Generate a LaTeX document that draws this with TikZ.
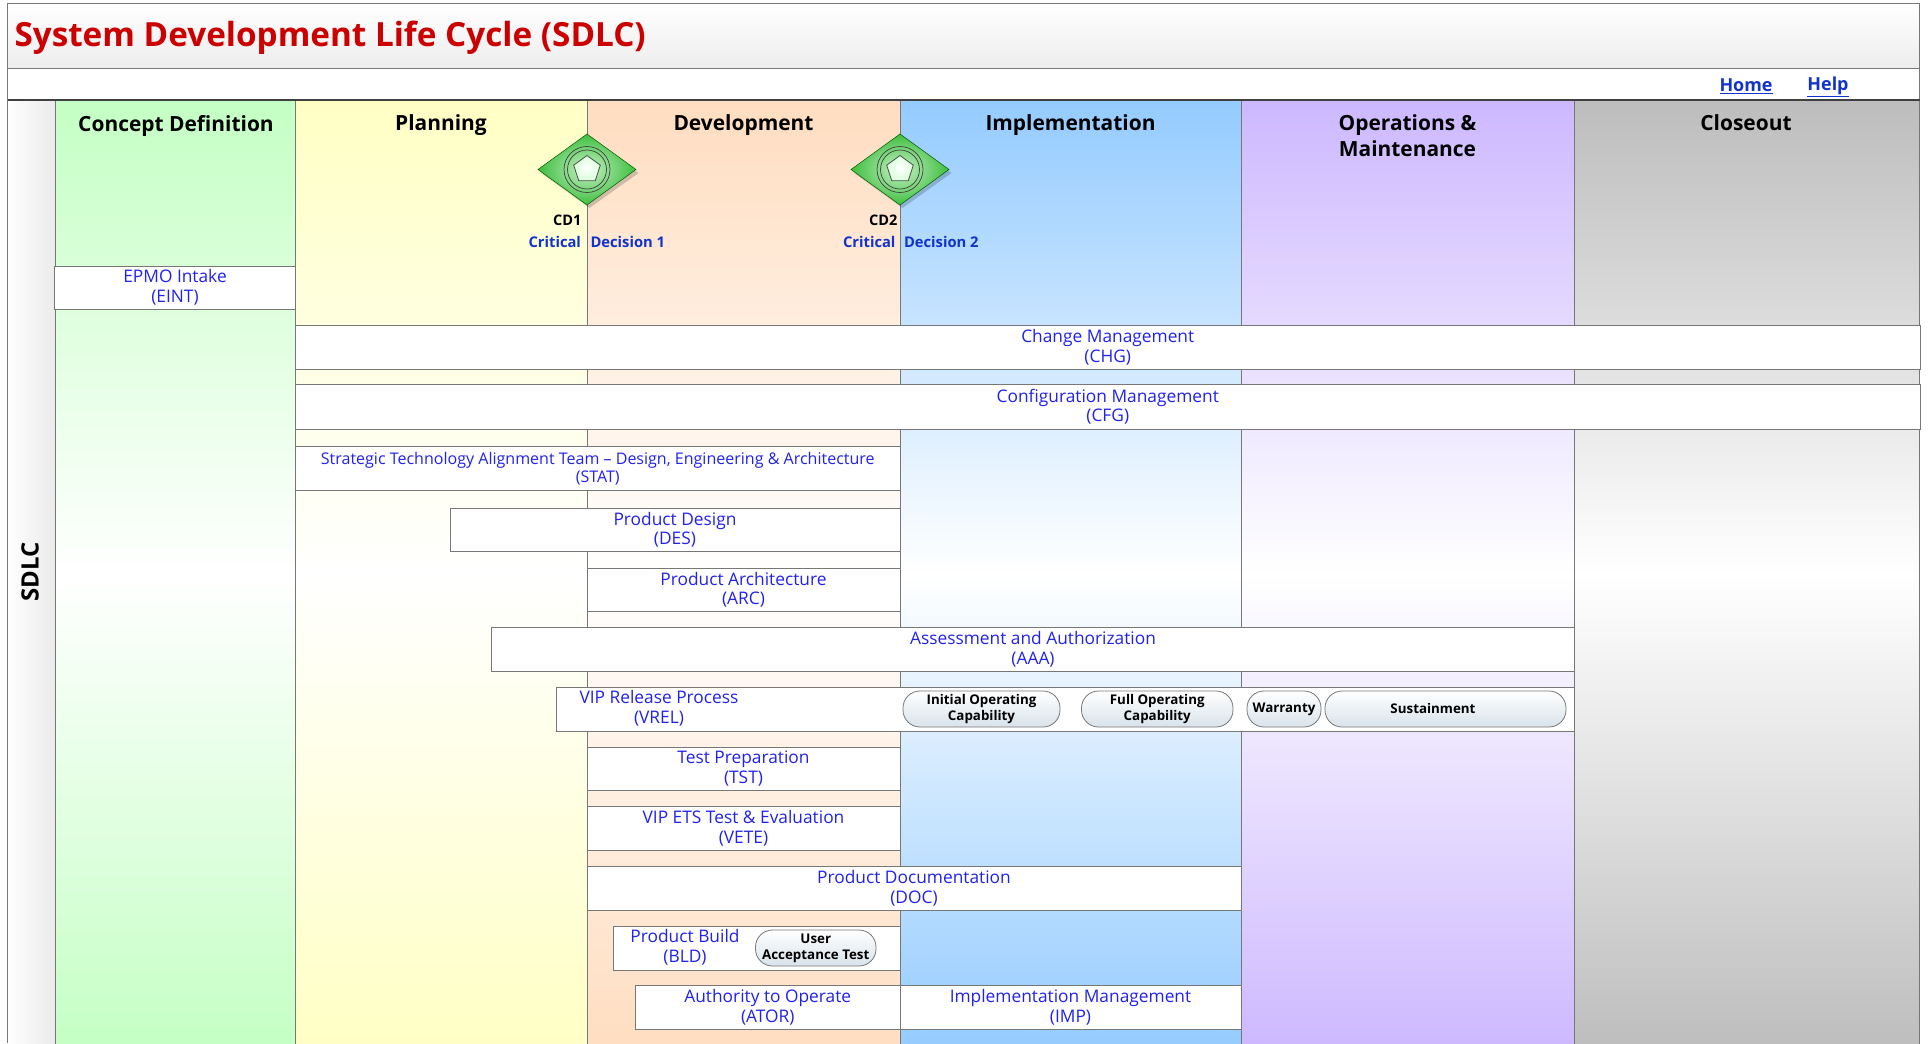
\documentclass[tikz,border=0pt]{standalone}
\usepackage{fontspec}
\setmainfont{Open Sans}
\usetikzlibrary{shapes.geometric,shadows}
\definecolor{linkblue}{HTML}{2222EE}
\definecolor{cdblue}{HTML}{1133CC}
\definecolor{edge}{HTML}{777777}
\definecolor{cgreen}{HTML}{C4FFC4}
\definecolor{cyellow}{HTML}{FFFFC4}
\definecolor{corange}{HTML}{FFDDC0}
\definecolor{cblue}{HTML}{94CBFF}
\definecolor{cpurple}{HTML}{CDB8FF}
\definecolor{cgray}{HTML}{BDBDBD}
\definecolor{pillend}{HTML}{D9E3EA}
\definecolor{gateout}{HTML}{3DBE3D}
\definecolor{gatein}{HTML}{C8F2C8}
\newcommand{\fs}[1]{\fontsize{#1}{#1}\selectfont}
\tikzset{
  x=1bp,y=-1bp,
  every node/.style={inner sep=0pt,outer sep=0pt},
  col/.style={draw=edge,line width=0.8bp,rectangle,anchor=north west,top color=#1,bottom color=#1,middle color=white},
  coltitle/.style={font=\fs{21}\bfseries,align=center,text=black,anchor=north},
  bar/.style={draw=edge,line width=1bp,fill=white,rectangle,align=center,text=linkblue,font=\fs{17.4},execute at begin node=\setlength{\baselineskip}{19.8bp}},
  lbl/.style={align=center,text=linkblue,font=\fs{17.4},execute at begin node=\setlength{\baselineskip}{19.8bp}},
  pill/.style={draw=edge,line width=0.8bp,rounded corners=17bp,top color=white,bottom color=pillend,align=center,text=black,font=\fs{13.4}\bfseries,execute at begin node=\setlength{\baselineskip}{16bp}},
  gate/.style={diamond,aspect=1.38,minimum width=98bp,minimum height=71bp,draw=green!35!black,line width=0.5bp,inner color=gatein,outer color=gateout},
  ring/.style={circle,draw=black!75,line width=0.7bp,minimum size=#1},
  penta/.style={regular polygon,regular polygon sides=5,draw=black!70,line width=0.8bp,inner color=white,outer color=green!15!white,minimum size=28bp},
  cdname/.style={font=\fs{14.6}\bfseries,text=black,anchor=east},
  cdlink/.style={font=\fs{14.8}\bfseries,text=cdblue},
  navlink/.style={font=\fs{18}\bfseries,text=cdblue}
}
% name, x1,y1,x2,y2, text
\newcommand{\barbox}[6]{\node[bar,minimum width=#4bp-#2bp,minimum height=#5bp-#3bp] (#1) at ({(#2+#4)/2},{(#3+#5)/2}) {#6};}
\newcommand{\pillbox}[6]{\node[pill,minimum width=#4bp-#2bp,minimum height=#5bp-#3bp] (#1) at ({(#2+#4)/2},{(#3+#5)/2}) {#6};}
\begin{document}
\begin{tikzpicture}
\useasboundingbox (0,0) rectangle (1928,1043);
\fill[white] (0,0) rectangle (1928,1043);
% title bar
\node[draw=edge,line width=1bp,rectangle,top color=white,bottom color=black!7,minimum width=1912bp,minimum height=65bp,anchor=north west] (titlebar) at (7.5,3) {};
\node[anchor=west,text=red!80!black,font=\fs{33.4}\bfseries] (title) at (14.5,38) {System Development Life Cycle (SDLC)};
% nav row
\node[draw=edge,line width=1bp,rectangle,fill=white,minimum width=1912bp,minimum height=32bp,anchor=north west] (navrow) at (7.5,68) {};
\node[navlink] (home) at (1746,86.5) {\underline{Home}};
\node[navlink] (help) at (1828,86.5) {\underline{Help}};
% side column
\path[left color=white,right color=black!8] (7.5,100) rectangle (55,1043);
\draw[edge,line width=1bp] (7.5,100) -- (7.5,1043);
\node[rotate=90,font=\fs{24}\bfseries,text=black] (sdlc) at (30,572) {SDLC};
% phase columns
\clip (0,0) rectangle (1928,1043);
\node[col=cgreen,minimum width=240bp,minimum height=950bp] (c1) at (55,100) {};
\node[col=cyellow,minimum width=292bp,minimum height=950bp] (c2) at (295,100) {};
\node[col=corange,minimum width=313bp,minimum height=950bp] (c3) at (587,100) {};
\node[col=cblue,minimum width=341bp,minimum height=950bp] (c4) at (900,100) {};
\node[col=cpurple,minimum width=333bp,minimum height=950bp] (c5) at (1241,100) {};
\node[col=cgray,minimum width=345.5bp,minimum height=950bp] (c6) at (1574,100) {};
\draw[black!75,line width=1.6bp] (7.5,100) -- (1920,100);
\node[coltitle] at (176,115) {Concept Definition};
\node[coltitle] at (441,115) {Planning};
\node[coltitle] at (743.5,115) {Development};
\node[coltitle] at (1070.5,115) {Implementation};
\node[coltitle,execute at begin node=\setlength{\baselineskip}{26bp}] at (1407.5,115) {Operations \&\\Maintenance};
\node[coltitle] at (1746,115) {Closeout};
% bars
\barbox{eint}{55}{266}{295}{309}{EPMO Intake\\(EINT)}
\barbox{chg}{295.5}{325.5}{1920}{369.5}{Change Management\\(CHG)}
\barbox{cfg}{295.5}{384.5}{1920}{429}{Configuration Management\\(CFG)}
\node[bar,minimum width=604.5bp,minimum height=44bp,font=\fs{16.1},execute at begin node=\setlength{\baselineskip}{18.5bp}] (stat) at (597.75,468.5) {Strategic Technology Alignment Team – Design, Engineering \& Architecture\\(STAT)};
\barbox{des}{450}{508}{900}{551.5}{Product Design\\(DES)}
\barbox{arc}{587}{568}{900}{611.5}{Product Architecture\\(ARC)}
\barbox{aaa}{492}{627.5}{1574}{671}{Assessment and Authorization\\(AAA)}
\barbox{vrel}{556}{687}{1574}{731}{}
\node[lbl] (vrellbl) at (659,708) {VIP Release Process\\(VREL)};
\barbox{tst}{587}{747}{900}{790.5}{Test Preparation\\(TST)}
\barbox{vete}{587}{806}{900}{850}{VIP ETS Test \& Evaluation\\(VETE)}
\barbox{doc}{587}{866}{1241}{910}{Product Documentation\\(DOC)}
\barbox{bld}{613}{926}{900}{970}{}
\node[lbl] (bldlbl) at (685,947.5) {Product Build\\(BLD)};
\barbox{ator}{635.5}{985}{900}{1029}{Authority to Operate\\(ATOR)}
\barbox{imp}{900}{985}{1241}{1029}{Implementation Management\\(IMP)}
% pills
\pillbox{ioc}{903}{691}{1060}{727}{Initial Operating\\Capability}
\pillbox{foc}{1081.5}{691}{1233}{727}{Full Operating\\Capability}
\pillbox{war}{1247}{691}{1321}{727}{Warranty}
\pillbox{sus}{1325}{691}{1566}{727}{}
\node[font=\fs{13.4}\bfseries,text=black] (suslbl) at (1433,708.5) {Sustainment};
\pillbox{uat}{755.5}{930}{876}{966}{User\\Acceptance Test}
% decision gates
\foreach \n/\cx/\nx/\lx/\rx/\cd in {a/587/581.5/581/590.5/1,b/900/897.5/895.5/904/2}{
  \fill[black,opacity=0.18] (\cx+2.5,134+3) -- (\cx+51.5,170+3) -- (\cx+2.5,205+3) -- (\cx-46,170+3) -- cycle;
  \node[gate] (gate\n) at (\cx,169.5) {};
  \node[ring=46bp] (outer\n) at (\cx,169.5) {};
  \node[ring=39bp] (inner\n) at (\cx,169.5) {};
  \node[penta] (pent\n) at (\cx,169.5) {};
  \node[cdname] (cd\n) at (\nx,220) {CD\cd};
  \node[cdlink,anchor=east] (crit\n) at (\lx,242) {Critical};
  \node[cdlink,anchor=west] (dec\n) at (\rx,242) {Decision \cd};
}
\end{tikzpicture}
\end{document}
